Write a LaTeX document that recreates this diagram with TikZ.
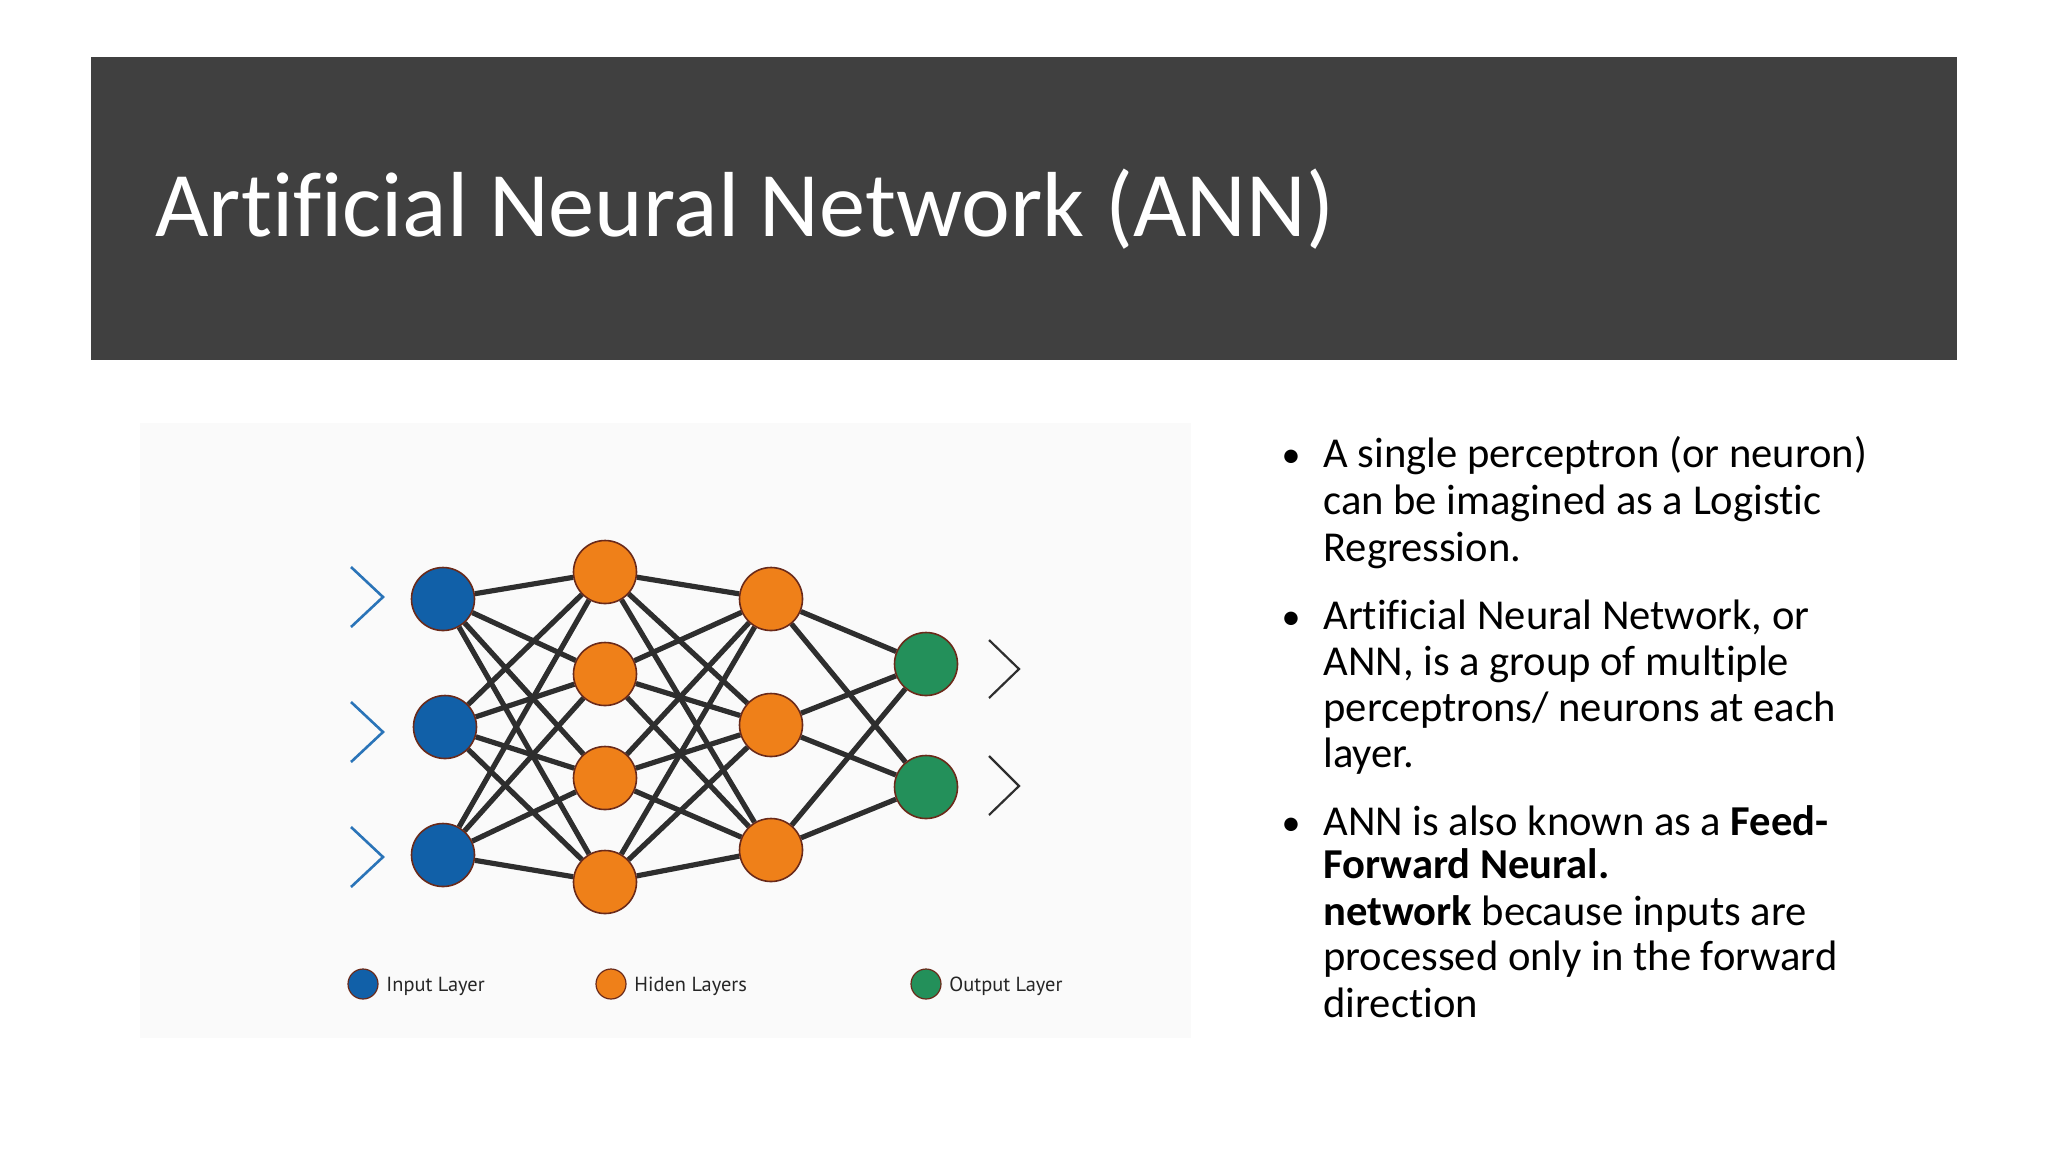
\documentclass[tikz,border=0pt]{standalone}
\usepackage{fontspec}
\setmainfont[Ligatures=NoCommon]{Carlito}
\newfontfamily\legendfont{PT Sans}
\pgfdeclarelayer{bg}
\pgfdeclarelayer{edges}
\pgfsetlayers{bg,edges,main}
\definecolor{banner}{HTML}{404040}
\definecolor{panel}{HTML}{FAFAFA}
\definecolor{nblue}{HTML}{1160A8}
\definecolor{norange}{HTML}{EF8019}
\definecolor{ngreen}{HTML}{23905A}
\definecolor{nrim}{HTML}{6A2A1A}
\definecolor{chevblue}{HTML}{2A74B8}
\definecolor{edgecol}{HTML}{2E2E2E}
\tikzset{
  neuron/.style={circle, draw=nrim, line width=0.8pt, minimum size=31.5pt, inner sep=0pt},
  inneuron/.style={neuron, fill=nblue},
  hidneuron/.style={neuron, fill=norange},
  outneuron/.style={neuron, fill=ngreen},
  legdot/.style={circle, draw=nrim, line width=0.6pt, minimum size=15pt, inner sep=0pt},
  legtext/.style={anchor=base west, inner sep=0pt, font=\legendfont\fontsize{10.2}{12}\selectfont, text=black!85},
  link/.style={draw=edgecol, line width=2.6pt},
  chevin/.style={draw=chevblue, line width=1.3pt},
  chevout/.style={draw=edgecol, line width=1.1pt},
  bodytext/.style={anchor=base west, inner sep=0pt, font=\fontsize{21.3}{24}\selectfont},
  bulletmark/.style={anchor=base, inner sep=0pt, font=\fontsize{19}{24}\selectfont}
}
\begin{document}
\begin{tikzpicture}[x=0.5pt, y=-0.5pt]
\useasboundingbox (0,0) rectangle (2048,1152);
\begin{pgfonlayer}{bg}
\fill[white] (0,0) rectangle (2048,1152);
\fill[banner] (91,57) rectangle (1957,360);
\fill[panel] (140,423) rectangle (1191,1038);
\end{pgfonlayer}
% title
\node[anchor=base west, inner sep=0pt, text=white, font=\fontsize{46.2}{56}\selectfont] (title) at (155,236) {Artificial Neural Network (ANN)};
% neurons
\node[inneuron] (i1) at (443,599) {};
\node[inneuron] (i2) at (445,727) {};
\node[inneuron] (i3) at (443,855) {};
\node[hidneuron] (a1) at (605,572) {};
\node[hidneuron] (a2) at (605,674) {};
\node[hidneuron] (a3) at (605,778) {};
\node[hidneuron] (a4) at (605,882) {};
\node[hidneuron] (b1) at (771,599) {};
\node[hidneuron] (b2) at (771,725) {};
\node[hidneuron] (b3) at (771,850) {};
\node[outneuron] (o1) at (926,664) {};
\node[outneuron] (o2) at (926,787) {};
% links
\begin{pgfonlayer}{edges}
\foreach \s in {i1,i2,i3}{\foreach \t in {a1,a2,a3,a4}{\draw[link] (\s) -- (\t);}}
\foreach \s in {a1,a2,a3,a4}{\foreach \t in {b1,b2,b3}{\draw[link] (\s) -- (\t);}}
\foreach \s in {b1,b2,b3}{\foreach \t in {o1,o2}{\draw[link] (\s) -- (\t);}}
\end{pgfonlayer}
% chevrons
\draw[chevin] (351,567) -- (383,597) -- (351,627);
\draw[chevin] (351,702) -- (383,732) -- (351,762);
\draw[chevin] (351,827) -- (383,857) -- (351,887);
\draw[chevout] (989,640) -- (1019,669) -- (989,698);
\draw[chevout] (989,756) -- (1019,786) -- (989,815);
% legend
\node[legdot, fill=nblue] (d1) at (363,984) {};
\node[legtext] (t1) at (386,991) {Input Layer};
\node[legdot, fill=norange] (d2) at (611,984) {};
\node[legtext] (t2) at (634,991) {Hiden Layers};
\node[legdot, fill=ngreen] (d3) at (926,984) {};
\node[legtext] (t3) at (949,991) {Output Layer};
% bullets
\node[bulletmark] (m1) at (1291,467) {•};
\node[bodytext] (l1) at (1323,467) {A single perceptron (or neuron)};
\node[bodytext] (l2) at (1323,514) {can be imagined as a Logistic};
\node[bodytext] (l3) at (1323,561) {Regression.};
\node[bulletmark] (m2) at (1291,629) {•};
\node[bodytext] (l4) at (1323,629) {Artificial Neural Network, or};
\node[bodytext] (l5) at (1323,675) {ANN, is a group of multiple};
\node[bodytext] (l6) at (1323,721) {perceptrons/ neurons at each};
\node[bodytext] (l7) at (1323,767) {layer.};
\node[bulletmark] (m3) at (1291,835) {•};
\node[bodytext] (l8) at (1323,835) {ANN is also known as a \textbf{Feed-}};
\node[bodytext] (l9) at (1323,878) {\textbf{Forward Neural.}};
\node[bodytext] (l10) at (1323,925) {\textbf{network} because inputs are};
\node[bodytext] (l11) at (1323,970) {processed only in the forward};
\node[bodytext] (l12) at (1323,1017) {direction};
\end{tikzpicture}
\end{document}
